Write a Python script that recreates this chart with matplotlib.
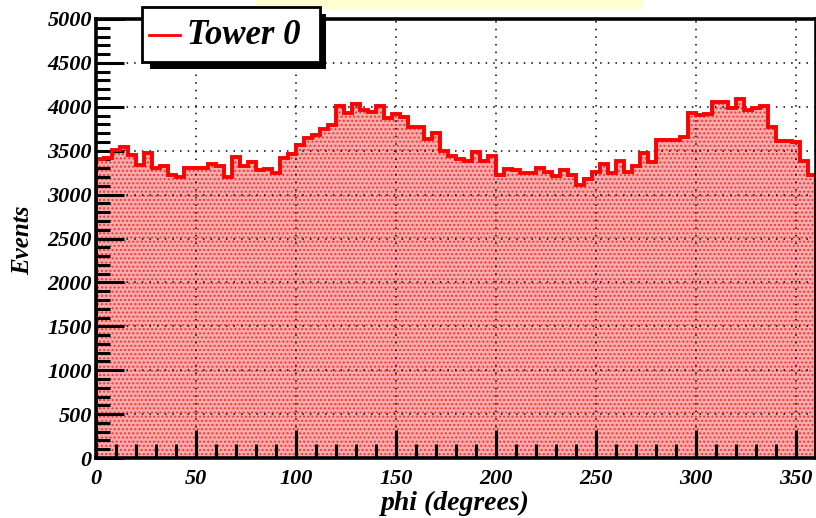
import numpy as np
import matplotlib
matplotlib.use("Agg")
import matplotlib.pyplot as plt
from matplotlib.patches import Rectangle
from matplotlib.lines import Line2D
from matplotlib.ticker import MultipleLocator

# ---- data ----
phi_min = 0
phi_max = 360
bin_width = 4
counts = [3400, 3420, 3505, 3540, 3450, 3335, 3470, 3300, 3325, 3225,
          3205, 3305, 3300, 3300, 3350, 3330, 3195, 3430, 3325, 3375,
          3275, 3295, 3242, 3413, 3460, 3568, 3650, 3682, 3743, 3793,
          4009, 3926, 4036, 3960, 3944, 4005, 3869, 3918, 3880, 3774,
          3770, 3629, 3700, 3500, 3440, 3410, 3380, 3489, 3380, 3440,
          3223, 3295, 3285, 3250, 3245, 3305, 3261, 3208, 3280, 3223,
          3109, 3174, 3261, 3352, 3246, 3387, 3261, 3326, 3470, 3375,
          3625, 3625, 3625, 3656, 3926, 3910, 3920, 4058, 4058, 3986,
          4092, 3964, 3983, 4004, 3774, 3616, 3616, 3600, 3380, 3223]
x_ticks = [0, 50, 100, 150, 200, 250, 300, 350]
y_ticks = [0, 500, 1000, 1500, 2000, 2500, 3000, 3500, 4000, 4500, 5000]
legend_label = "Tower 0"
x_label = "phi (degrees)"
y_label = "Events"

edges = np.arange(phi_min, phi_max + bin_width, bin_width)

W, H = 816, 518
fig = plt.figure(figsize=(W / 100, H / 100), dpi=100)
fig.patch.set_facecolor("white")

def fx(px):
    return px / W

def fy(py):
    return 1 - py / H

ax = fig.add_axes([fx(96), fy(458), fx(816) - fx(96), fy(19) - fy(458)])

ax.stairs(counts, edges, fill=True, facecolor="#f5adad", edgecolor="#ff3030",
          hatch="....", linewidth=0, zorder=1)
ax.stairs(counts, edges, color="red", linewidth=2.8, zorder=3)

ax.set_xlim(phi_min, phi_max)
ax.set_ylim(0, 5000)
ax.set_xticks(x_ticks)
ax.set_yticks(y_ticks)
ax.xaxis.set_minor_locator(MultipleLocator(10))
ax.yaxis.set_minor_locator(MultipleLocator(100))

ax.set_axisbelow(False)
ax.grid(True, which="major", color="black", linestyle=(0, (1, 4)), linewidth=1.1)

for s in ax.spines.values():
    s.set_linewidth(2.6)
    s.set_zorder(5)

ax.tick_params(which="both", direction="in", top=False, right=False,
               width=2.2, colors="black")
ax.tick_params(which="major", length=20)
ax.tick_params(which="minor", length=10)

tick_font = dict(family="Liberation Serif", weight="bold", style="italic", size=16)
ax.set_xticklabels([str(t) for t in x_ticks], **tick_font)
ax.set_yticklabels([str(t) for t in y_ticks], **tick_font)
ax.tick_params(axis="y", pad=3)
ax.tick_params(axis="x", pad=8)

lab_font = dict(family="Liberation Serif", weight="bold", style="italic")
fig.text(fx(23), fy(240), y_label, rotation=90, ha="center", va="center",
         size=18, **lab_font)
fig.text(fx(455), fy(516), x_label, ha="center", va="bottom", size=20, **lab_font)

# pale yellow band at the top
fig.add_artist(Rectangle((fx(256), fy(9)), fx(643) - fx(256), fy(0) - fy(9),
                         transform=fig.transFigure, facecolor="#ffffd0",
                         edgecolor="none", zorder=0))

# legend box with drop shadow
fig.add_artist(Rectangle((fx(150), fy(69)), fx(326) - fx(150), fy(14) - fy(69),
                         transform=fig.transFigure, facecolor="black",
                         edgecolor="none", zorder=10))
fig.add_artist(Rectangle((fx(142), fy(62)), fx(320) - fx(142), fy(7) - fy(62),
                         transform=fig.transFigure, facecolor="white",
                         edgecolor="black", linewidth=2, zorder=11))
fig.add_artist(Line2D([fx(149), fx(180)], [fy(35), fy(35)], transform=fig.transFigure,
                      color="red", linewidth=2, zorder=12))
fig.text(fx(187), fy(35), legend_label, ha="left", va="center", zorder=12,
         size=25, **lab_font)

fig.savefig("out.png", dpi=100)
